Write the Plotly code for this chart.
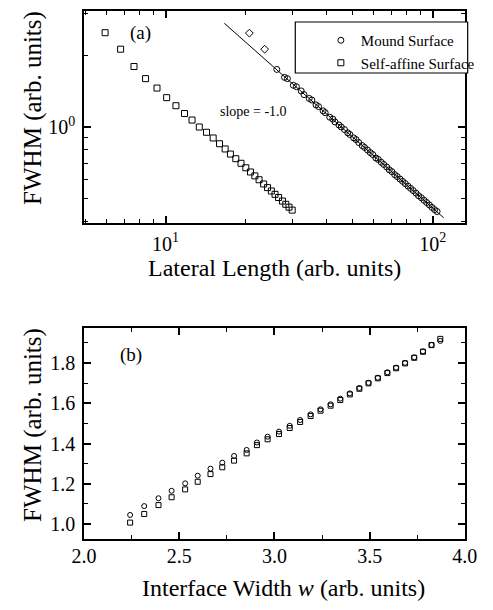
import plotly.graph_objects as go

# ---------------- data: panel (a) ----------------
self_affine_L = [5.94, 6.79, 7.62, 8.42, 9.29, 10.1, 10.94, 11.78, 12.57, 13.38, 14.24, 15.08,
                 15.93, 16.72, 17.5, 18.33, 19.17, 19.98, 20.8, 21.6, 22.4, 23.3, 24.1, 24.9,
                 25.7, 26.5, 27.4, 28.2, 29.0, 29.8]
self_affine_fwhm = [2.50, 2.13, 1.80, 1.60, 1.46, 1.33, 1.23, 1.14, 1.07, 1.00, 0.950, 0.899,
                    0.850, 0.808, 0.769, 0.735, 0.703, 0.673, 0.646, 0.622, 0.599, 0.575, 0.555,
                    0.537, 0.520, 0.504, 0.487, 0.472, 0.459, 0.446]

mound_L = [26.1, 27.9, 28.6, 30.1, 30.9, 32.2, 33.0, 34.5, 35.3, 36.6, 37.4, 38.9, 39.6, 41.2,
           42.3, 43.1, 44.6, 45.5, 46.8, 48.1, 49.0, 50.6, 51.7, 52.9, 54.5, 55.6, 57.0, 58.4,
           59.7, 61.3, 62.6, 64.2, 65.6, 67.3, 68.8, 70.4, 72.1, 73.7, 75.5, 77.2, 79.0, 80.9,
           82.7, 84.6, 86.6, 88.6, 90.7, 92.8, 95.0, 97.2, 99.4, 101.7, 103.9]
mound_fwhm = [1.75, 1.62, 1.60, 1.50, 1.48, 1.42, 1.37, 1.32, 1.30, 1.24, 1.22, 1.17, 1.15, 1.10,
              1.08, 1.05, 1.02, 1.00, 0.975, 0.945, 0.93, 0.90, 0.885, 0.86, 0.835, 0.82, 0.80,
              0.78, 0.765, 0.74, 0.73, 0.71, 0.695, 0.678, 0.66, 0.648, 0.63, 0.618, 0.603, 0.59,
              0.577, 0.563, 0.551, 0.539, 0.526, 0.513, 0.503, 0.491, 0.48, 0.469, 0.458, 0.448,
              0.44]

mound_early_L = [20.6, 23.5]
mound_early_fwhm = [2.49, 2.13]

fit_L = [16.6, 110.0]
fit_fwhm = [2.74, 0.414]

# ---------------- data: panel (b) ----------------
width_w = [2.242, 2.316, 2.391, 2.460, 2.531, 2.597, 2.664, 2.726, 2.788, 2.854, 2.908, 2.964,
           3.024, 3.080, 3.135, 3.190, 3.242, 3.295, 3.346, 3.396, 3.446, 3.494, 3.543, 3.593,
           3.639, 3.686, 3.734, 3.780, 3.825, 3.871]
mound_b = [1.045, 1.089, 1.128, 1.165, 1.202, 1.240, 1.275, 1.305, 1.338, 1.368, 1.405, 1.434,
           1.459, 1.488, 1.517, 1.545, 1.570, 1.595, 1.623, 1.649, 1.676, 1.702, 1.727, 1.754,
           1.777, 1.801, 1.828, 1.858, 1.890, 1.910]
selfaff_b = [1.007, 1.050, 1.094, 1.133, 1.172, 1.210, 1.248, 1.282, 1.315, 1.351, 1.392, 1.421,
             1.447, 1.477, 1.507, 1.537, 1.563, 1.588, 1.616, 1.644, 1.672, 1.699, 1.724, 1.750,
             1.774, 1.798, 1.826, 1.856, 1.889, 1.920]

FONT = "Liberation Serif, Times New Roman, serif"
W, H = 493, 610

def px_x(p):
    return p / W

def px_y(p):
    return 1 - p / H

fig = go.Figure()

mk_line = dict(color="black", width=1)

fig.add_trace(go.Scatter(x=fit_L, y=fit_fwhm, mode="lines", line=dict(color="black", width=1),
                         showlegend=False, xaxis="x", yaxis="y"))
fig.add_trace(go.Scatter(x=mound_L, y=mound_fwhm, mode="markers", name="Mound Surface",
                         marker=dict(symbol="circle-open", size=6, color="black", line=mk_line),
                         xaxis="x", yaxis="y"))
fig.add_trace(go.Scatter(x=self_affine_L, y=self_affine_fwhm, mode="markers", name="Self-affine Surface",
                         marker=dict(symbol="square-open", size=6, color="black", line=mk_line),
                         xaxis="x", yaxis="y"))
fig.add_trace(go.Scatter(x=mound_early_L, y=mound_early_fwhm, mode="markers", showlegend=False,
                         marker=dict(symbol="diamond-open", size=6, color="black", line=mk_line),
                         xaxis="x", yaxis="y"))

fig.add_trace(go.Scatter(x=width_w, y=mound_b, mode="markers", showlegend=False,
                         marker=dict(symbol="circle-open", size=5, color="black", line=mk_line),
                         xaxis="x2", yaxis="y2"))
fig.add_trace(go.Scatter(x=width_w, y=selfaff_b, mode="markers", showlegend=False,
                         marker=dict(symbol="square-open", size=5, color="black", line=mk_line),
                         xaxis="x2", yaxis="y2"))

axis_common = dict(showline=True, linecolor="black", linewidth=1.6, mirror="allticks",
                   ticks="inside", tickcolor="black", tickwidth=1.5, ticklen=7,
                   showgrid=False, zeroline=False,
                   tickfont=dict(family=FONT, size=20, color="black"))
minor_common = dict(ticks="inside", ticklen=4, tickcolor="black", tickwidth=1.3)

x_dom = [px_x(75), px_x(477)]

fig.update_layout(
    width=W, height=H, margin=dict(l=0, r=0, t=0, b=0),
    paper_bgcolor="white", plot_bgcolor="white",
    font=dict(family=FONT, color="black"),
    xaxis=dict(type="log", domain=x_dom, anchor="y", range=[0.695, 2.1206],
               tickmode="array", tickvals=[10, 100], ticktext=["10<sup>1</sup>", "10<sup>2</sup>"],
               ticklabelstandoff=2,
               minor=dict(tickmode="array",
                          tickvals=[5, 6, 7, 8, 9, 20, 30, 40, 50, 60, 70, 80, 90],
                          **minor_common),
               **axis_common),
    yaxis=dict(type="log", domain=[px_y(223), px_y(11)], anchor="x", range=[-0.405, 0.4895],
               tickmode="array", tickvals=[1], ticktext=["10<sup>0</sup>"],
               ticklabelstandoff=3,
               minor=dict(tickmode="array",
                          tickvals=[0.4, 0.5, 0.6, 0.7, 0.8, 0.9, 2, 3],
                          **minor_common),
               **axis_common),
    xaxis2=dict(domain=x_dom, anchor="y2", range=[2.0, 4.0],
                tickmode="array", tickvals=[2.0, 2.5, 3.0, 3.5, 4.0],
                ticktext=["2.0", "2.5", "3.0", "3.5", "4.0"],
                ticklabelstandoff=-2,
                minor=dict(tickmode="array", tickvals=[2.25, 2.75, 3.25, 3.75], **minor_common),
                **axis_common),
    yaxis2=dict(domain=[px_y(539), px_y(328)], anchor="x2", range=[0.9255, 1.974],
                tickmode="array", tickvals=[1.0, 1.2, 1.4, 1.6, 1.8],
                ticktext=["1.0", "1.2", "1.4", "1.6", "1.8"],
                ticklabelstandoff=3,
                minor=dict(tickmode="array", tickvals=[1.1, 1.3, 1.5, 1.7, 1.9], **minor_common),
                **axis_common),
    legend=dict(x=px_x(325), y=px_y(24), xanchor="left", yanchor="top",
                borderwidth=0, bgcolor="rgba(0,0,0,0)",
                font=dict(family=FONT, size=15, color="black"),
                tracegroupgap=0, itemwidth=30),
    shapes=[dict(type="rect", xref="paper", yref="paper",
                 x0=px_x(298), x1=px_x(480), y0=px_y(73), y1=px_y(22),
                 line=dict(color="black", width=1.2), fillcolor="white", layer="above")],
)

ann = []
def add_text(x, y, text, size, **kw):
    ann.append(dict(x=px_x(x), y=px_y(y), xref="paper", yref="paper", text=text, showarrow=False,
                    xanchor="center", yanchor="middle",
                    font=dict(family=FONT, size=size, color="black"), **kw))

add_text(135, 33, "(a)", 19)
add_text(254, 112, "slope = -1.0", 14)
add_text(276, 268, "Lateral Length (arb. units)", 24)
add_text(21, 108, "FWHM (arb. units)", 25, textangle=-90)
add_text(125, 355, "(b)", 19)
add_text(286, 588, "Interface Width <i>w</i> (arb. units)", 24)
add_text(21, 425, "FWHM (arb. units)", 25, textangle=-90)
fig.update_layout(annotations=ann)

fig.write_html("out.html")
